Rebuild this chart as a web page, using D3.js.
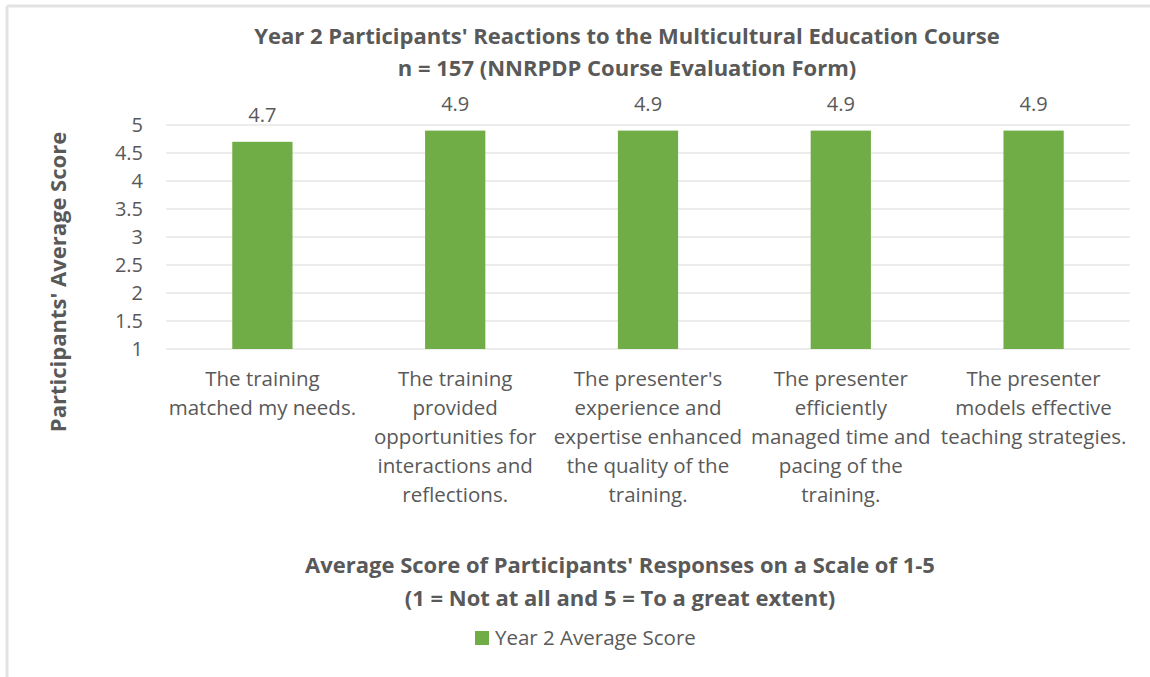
<!DOCTYPE html>
<html lang="en">
<head>
  <meta charset="UTF-8">
  <title>Year 2 Participants' Reactions</title>
  <script src="https://d3js.org/d3.v7.min.js"></script>
  <style>
    body { margin: 0; background: #fff; }
    text { font-family: "Open Sans", sans-serif; fill: #595959; }
  </style>
</head>
<body>
  <svg id="chart" width="1150" height="677"></svg>
  <script>
    // data
    const categories = [
      "The training matched my needs.",
      "The training provided opportunities for interactions and reflections.",
      "The presenter's experience and expertise enhanced the quality of the training.",
      "The presenter efficiently managed time and pacing of the training.",
      "The presenter models effective teaching strategies."
    ];
    // how each category label wraps in the original
    const categoryLines = [
      ["The training", "matched my needs."],
      ["The training", "provided", "opportunities for", "interactions and", "reflections."],
      ["The presenter's", "experience and", "expertise enhanced", "the quality of the", "training."],
      ["The presenter", "efficiently", "managed time and", "pacing of the", "training."],
      ["The presenter", "models effective", "teaching strategies."]
    ];
    const scores = [4.7, 4.9, 4.9, 4.9, 4.9];
    const yTicks = [1, 1.5, 2, 2.5, 3, 3.5, 4, 4.5, 5];
    const seriesName = "Year 2 Average Score";
    const titleLines = ["Year 2 Participants' Reactions to the Multicultural Education Course",
                        "n = 157 (NNRPDP Course Evaluation Form)"];
    const xTitleLines = ["Average Score of Participants' Responses on a Scale of 1-5",
                         "(1 = Not at all and 5 = To a great extent)"];
    const yTitle = "Participants' Average Score";

    const svg = d3.select('svg#chart');
    const green = '#70ad47';
    const plot = { left: 166, right: 1130, top: 125, bottom: 349 };

    // outer frame (only top and left edges show in the picture)
    svg.append('line').attr('x1', 7).attr('x2', 1150).attr('y1', 6).attr('y2', 6)
      .attr('stroke', '#e3e3e3').attr('stroke-width', 3);
    svg.append('line').attr('x1', 7).attr('x2', 7).attr('y1', 6).attr('y2', 677)
      .attr('stroke', '#e3e3e3').attr('stroke-width', 3);

    const x = d3.scaleBand().domain(categories)
      .range([plot.left, plot.right])
      .paddingInner(0.6875).paddingOuter(0.34375);
    const y = d3.scaleLinear().domain([1, 5]).range([plot.bottom, plot.top]);

    // gridlines
    svg.append('g').selectAll('line').data(yTicks).join('line')
      .attr('x1', plot.left).attr('x2', plot.right)
      .attr('y1', d => y(d)).attr('y2', d => y(d))
      .attr('stroke', '#d9d9d9').attr('stroke-width', 1);

    // y axis labels
    const yAxis = svg.append('g')
      .attr('transform', `translate(${plot.left - 8},0)`)
      .call(d3.axisLeft(y).tickValues(yTicks).tickSize(0).tickPadding(15).tickFormat(d3.format('')));
    yAxis.select('.domain').remove();
    yAxis.selectAll('text').style('font-size', '20px').attr('fill', '#595959')
      .style('font-family', '"Open Sans", sans-serif');

    // bars
    svg.append('g').selectAll('rect').data(scores).join('rect')
      .attr('x', (d, i) => x(categories[i]))
      .attr('width', x.bandwidth())
      .attr('y', d => y(d))
      .attr('height', d => y(1) - y(d))
      .attr('fill', green);

    // value labels
    svg.append('g').selectAll('text').data(scores).join('text')
      .attr('x', (d, i) => x(categories[i]) + x.bandwidth() / 2)
      .attr('y', d => y(d) - 20)
      .attr('text-anchor', 'middle')
      .style('font-size', '20px')
      .text(d => d3.format('.1f')(d));

    // category labels
    const catG = svg.append('g');
    categories.forEach((c, i) => {
      const t = catG.append('text')
        .attr('x', x(c) + x.bandwidth() / 2)
        .attr('y', 386)
        .attr('text-anchor', 'middle')
        .style('font-size', '20.5px');
      categoryLines[i].forEach((ln, j) => {
        t.append('tspan').attr('x', x(c) + x.bandwidth() / 2)
          .attr('dy', j === 0 ? 0 : 29).text(ln);
      });
    });

    // chart title
    svg.append('g').selectAll('text').data(titleLines).join('text')
      .attr('x', 627).attr('y', (d, i) => 44 + i * 32)
      .attr('text-anchor', 'middle')
      .style('font-size', '22px').style('font-weight', 'bold')
      .text(d => d);

    // x axis title
    svg.append('g').selectAll('text').data(xTitleLines).join('text')
      .attr('x', 620).attr('y', (d, i) => 573 + i * 33)
      .attr('text-anchor', 'middle')
      .style('font-size', '22px').style('font-weight', 'bold')
      .text(d => d);

    // y axis title
    svg.append('text')
      .attr('transform', 'translate(66,282) rotate(-90)')
      .attr('text-anchor', 'middle')
      .style('font-size', '22px').style('font-weight', 'bold')
      .text(yTitle);

    // legend
    const legend = svg.append('g').attr('transform', 'translate(475,631)');
    legend.append('rect').attr('width', 14).attr('height', 14).attr('fill', green);
    legend.append('text').attr('x', 20).attr('y', 14)
      .style('font-size', '20.5px').text(seriesName);
  </script>
</body>
</html>
